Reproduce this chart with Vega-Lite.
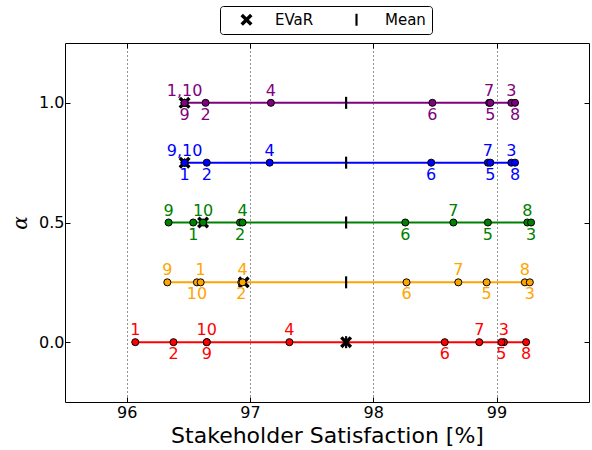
{
  "$schema": "https://vega.github.io/schema/vega-lite/v6.json",
  "autosize": {"type": "none"},
  "width": 524,
  "height": 359,
  "padding": {"left": 65, "top": 43, "right": 3, "bottom": 48},
  "config": {
    "font": "DejaVu Sans",
    "view": {"stroke": "#000000", "strokeWidth": 1},
    "axis": {"labelFont": "DejaVu Sans", "titleFont": "DejaVu Sans", "labelColor": "#000", "titleColor": "#000", "tickColor": "#000", "domain": false},
    "legend": {"labelFont": "DejaVu Sans"}
  },
  "datasets": {
    "pts": [
      {"a": 0, "x": 96.07, "id": 1, "lab": "1", "pos": "up"},
      {"a": 0, "x": 96.38, "id": 2, "lab": "2", "pos": "down"},
      {"a": 0, "x": 96.65, "id": 10, "lab": "10", "pos": "up"},
      {"a": 0, "x": 96.65, "id": 9, "lab": "9", "pos": "down"},
      {"a": 0, "x": 97.32, "id": 4, "lab": "4", "pos": "up"},
      {"a": 0, "x": 98.58, "id": 6, "lab": "6", "pos": "down"},
      {"a": 0, "x": 98.86, "id": 7, "lab": "7", "pos": "up"},
      {"a": 0, "x": 99.06, "id": 3, "lab": "3", "pos": "up"},
      {"a": 0, "x": 99.04, "id": 5, "lab": "5", "pos": "down"},
      {"a": 0, "x": 99.24, "id": 8, "lab": "8", "pos": "down"},
      {"a": 0.25, "x": 96.33, "id": 9, "lab": "9", "pos": "up"},
      {"a": 0.25, "x": 96.57, "id": 10, "lab": "10", "pos": "down"},
      {"a": 0.25, "x": 96.6, "id": 1, "lab": "1", "pos": "up"},
      {"a": 0.25, "x": 96.93, "id": 2, "lab": "2", "pos": "down"},
      {"a": 0.25, "x": 96.94, "id": 4, "lab": "4", "pos": "up"},
      {"a": 0.25, "x": 98.27, "id": 6, "lab": "6", "pos": "down"},
      {"a": 0.25, "x": 98.69, "id": 7, "lab": "7", "pos": "up"},
      {"a": 0.25, "x": 98.92, "id": 5, "lab": "5", "pos": "down"},
      {"a": 0.25, "x": 99.23, "id": 8, "lab": "8", "pos": "up"},
      {"a": 0.25, "x": 99.27, "id": 3, "lab": "3", "pos": "down"},
      {"a": 0.5, "x": 96.34, "id": 9, "lab": "9", "pos": "up"},
      {"a": 0.5, "x": 96.54, "id": 1, "lab": "1", "pos": "down"},
      {"a": 0.5, "x": 96.62, "id": 10, "lab": "10", "pos": "up"},
      {"a": 0.5, "x": 96.92, "id": 2, "lab": "2", "pos": "down"},
      {"a": 0.5, "x": 96.94, "id": 4, "lab": "4", "pos": "up"},
      {"a": 0.5, "x": 98.26, "id": 6, "lab": "6", "pos": "down"},
      {"a": 0.5, "x": 98.65, "id": 7, "lab": "7", "pos": "up"},
      {"a": 0.5, "x": 98.93, "id": 5, "lab": "5", "pos": "down"},
      {"a": 0.5, "x": 99.25, "id": 8, "lab": "8", "pos": "up"},
      {"a": 0.5, "x": 99.28, "id": 3, "lab": "3", "pos": "down"},
      {"a": 0.75, "x": 96.47, "id": 9, "lab": "9,10", "pos": "up"},
      {"a": 0.75, "x": 96.47, "id": 10, "lab": "", "pos": "up"},
      {"a": 0.75, "x": 96.47, "id": 1, "lab": "1", "pos": "down"},
      {"a": 0.75, "x": 96.65, "id": 2, "lab": "2", "pos": "down"},
      {"a": 0.75, "x": 97.16, "id": 4, "lab": "4", "pos": "up"},
      {"a": 0.75, "x": 98.47, "id": 6, "lab": "6", "pos": "down"},
      {"a": 0.75, "x": 98.93, "id": 7, "lab": "7", "pos": "up"},
      {"a": 0.75, "x": 98.95, "id": 5, "lab": "5", "pos": "down"},
      {"a": 0.75, "x": 99.12, "id": 3, "lab": "3", "pos": "up"},
      {"a": 0.75, "x": 99.15, "id": 8, "lab": "8", "pos": "down"},
      {"a": 1, "x": 96.47, "id": 1, "lab": "1,10", "pos": "up"},
      {"a": 1, "x": 96.47, "id": 10, "lab": "", "pos": "up"},
      {"a": 1, "x": 96.47, "id": 9, "lab": "9", "pos": "down"},
      {"a": 1, "x": 96.64, "id": 2, "lab": "2", "pos": "down"},
      {"a": 1, "x": 97.17, "id": 4, "lab": "4", "pos": "up"},
      {"a": 1, "x": 98.48, "id": 6, "lab": "6", "pos": "down"},
      {"a": 1, "x": 98.94, "id": 7, "lab": "7", "pos": "up"},
      {"a": 1, "x": 98.95, "id": 5, "lab": "5", "pos": "down"},
      {"a": 1, "x": 99.12, "id": 3, "lab": "3", "pos": "up"},
      {"a": 1, "x": 99.15, "id": 8, "lab": "8", "pos": "down"}
    ],
    "marks": [
      {"a": 0, "x": 97.78, "type": "Mean"},
      {"a": 0.25, "x": 97.78, "type": "Mean"},
      {"a": 0.5, "x": 97.78, "type": "Mean"},
      {"a": 0.75, "x": 97.78, "type": "Mean"},
      {"a": 1, "x": 97.78, "type": "Mean"},
      {"a": 0, "x": 97.78, "type": "EVaR"},
      {"a": 0.25, "x": 96.95, "type": "EVaR"},
      {"a": 0.5, "x": 96.62, "type": "EVaR"},
      {"a": 0.75, "x": 96.47, "type": "EVaR"},
      {"a": 1, "x": 96.47, "type": "EVaR"}
    ]
  },
  "resolve": {"axis": {"x": "independent", "y": "independent"}},
  "layer": [
    {
      "data": {"name": "pts"},
      "mark": {"type": "line", "strokeWidth": 2},
      "encoding": {
        "x": {"field": "x", "type": "quantitative", "scale": {"domain": [95.5, 99.75], "nice": false, "zero": false},
          "axis": {"values": [96, 97, 98, 99], "format": "d", "title": "Stakeholder Satisfaction [%]", "titleFontSize": 22, "titleFontWeight": "normal", "titlePadding": 5, "labelFontSize": 16, "labelPadding": 7, "tickSize": -5, "grid": true, "gridColor": "#000", "gridDash": [1, 3], "gridWidth": 1, "gridOpacity": 0.85}},
        "y": {"field": "a", "type": "quantitative", "scale": {"domain": [-0.25, 1.25], "nice": false, "zero": false},
          "axis": {"values": [0, 0.5, 1], "format": ".1f", "title": "α", "titleFontSize": 20, "titleFontStyle": "italic", "titleFontWeight": "normal", "titleFont": "DejaVu Serif", "titlePadding": 8, "labelFontSize": 16, "labelPadding": 6, "tickSize": -5, "grid": false}},
        "color": {"field": "a", "type": "nominal", "scale": {"domain": [0, 0.25, 0.5, 0.75, 1], "range": ["#ff0000", "#ffa500", "#008000", "#0000ff", "#800080"]}, "legend": null},
        "order": {"field": "x", "type": "quantitative"}
      }
    },
    {
      "data": {"name": "marks"},
      "mark": {"type": "point", "filled": true, "color": "#000", "opacity": 1, "size": 144, "strokeWidth": 0},
      "encoding": {
        "x": {"field": "x", "type": "quantitative", "axis": {"orient": "top", "labels": false, "title": null, "tickSize": -5, "grid": false, "values": [96, 97, 98, 99]}},
        "y": {"field": "a", "type": "quantitative", "axis": {"orient": "right", "labels": false, "title": null, "tickSize": -5, "grid": false, "values": [0, 0.5, 1]}},
        "shape": {"field": "type", "type": "nominal",
          "scale": {"domain": ["EVaR", "Mean"], "range": ["M-1,-0.6L-0.6,-1L0,-0.4L0.6,-1L1,-0.6L0.4,0L1,0.6L0.6,1L0,0.4L-0.6,1L-1,0.6L-0.4,0Z", "M-0.18,-1L0.18,-1L0.18,1L-0.18,1Z"]},
          "legend": {"title": null, "orient": "none", "direction": "horizontal", "legendX": 155, "legendY": -37, "labelFontSize": 15, "labelOffset": 21, "columnPadding": 22, "symbolOffset": 13, "symbolSize": 144, "symbolFillColor": "#000", "symbolStrokeWidth": 0, "strokeColor": "#000", "fillColor": "#fff", "padding": 6, "cornerRadius": 3}}
      }
    },
    {
      "data": {"name": "pts"},
      "mark": {"type": "point", "shape": "circle", "filled": true, "opacity": 1, "size": 50, "stroke": "#000", "strokeWidth": 1},
      "encoding": {
        "x": {"field": "x", "type": "quantitative", "axis": null},
        "y": {"field": "a", "type": "quantitative", "axis": null},
        "fill": {"field": "a", "type": "nominal", "scale": {"domain": [0, 0.25, 0.5, 0.75, 1], "range": ["#ff0000", "#ffa500", "#008000", "#0000ff", "#800080"]}, "legend": null}
      }
    },
    {
      "data": {"name": "pts"},
      "transform": [{"filter": "datum.pos == 'up'"}],
      "mark": {"type": "text", "dy": -12, "baseline": "middle", "align": "center", "fontSize": 16, "font": "DejaVu Sans"},
      "encoding": {
        "x": {"field": "x", "type": "quantitative", "axis": null},
        "y": {"field": "a", "type": "quantitative", "axis": null},
        "text": {"field": "lab"},
        "color": {"field": "a", "type": "nominal", "legend": null}
      }
    },
    {
      "data": {"name": "pts"},
      "transform": [{"filter": "datum.pos == 'down'"}],
      "mark": {"type": "text", "dy": 12, "baseline": "middle", "align": "center", "fontSize": 16, "font": "DejaVu Sans"},
      "encoding": {
        "x": {"field": "x", "type": "quantitative", "axis": null},
        "y": {"field": "a", "type": "quantitative", "axis": null},
        "text": {"field": "lab"},
        "color": {"field": "a", "type": "nominal", "legend": null}
      }
    }
  ]
}
